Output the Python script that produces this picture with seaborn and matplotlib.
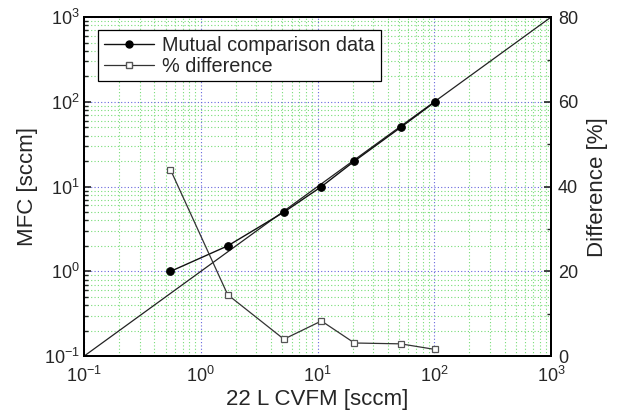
import numpy as np
import matplotlib
matplotlib.use('Agg')
import matplotlib.pyplot as plt
from matplotlib.lines import Line2D
from matplotlib.ticker import LogLocator, MultipleLocator, NullFormatter
import seaborn as sns
import pandas as pd

##################################################################
# data
cvfm = [0.55, 1.7, 5.15, 10.8, 20.7, 51.5, 100.5]
mfc = [1.0, 2.0, 5.0, 10.0, 20.0, 50.0, 99.0]
diff_pct = [44.0, 14.5, 4.0, 8.3, 3.1, 2.9, 1.6]
diag = [0.1, 1000.0]
##################################################################
sns.set_style('white')
plt.rcParams['font.family'] = ['Liberation Sans', 'DejaVu Sans']
plt.rcParams['mathtext.fontset'] = 'custom'
plt.rcParams['mathtext.rm'] = 'Liberation Sans'

df = pd.DataFrame({'cvfm': cvfm, 'mfc': mfc, 'diff': diff_pct})
df_diag = pd.DataFrame({'x': diag, 'y': diag})

fig = plt.figure(figsize=(6.18, 4.18), dpi=100)
ax = fig.add_axes([0.136, 0.148, 0.7556, 0.811])
ax2 = ax.twinx()

ax.set_xscale('log')
ax.set_yscale('log')

sns.lineplot(data=df_diag, x='x', y='y', ax=ax, color='#222222', lw=0.9)
sns.lineplot(data=df, x='cvfm', y='mfc', ax=ax, color='#111111', lw=1.0,
             marker='o', markersize=5.5, markerfacecolor='black',
             markeredgecolor='black')
sns.lineplot(data=df, x='cvfm', y='diff', ax=ax2, color='#333333', lw=0.9,
             marker='s', markersize=5, markerfacecolor='white',
             markeredgecolor='#555555', markeredgewidth=0.9)

ax.set_xlim(0.1, 1000)
ax.set_ylim(0.1, 1000)
ax2.set_ylim(0, 80)

for a in (ax.xaxis, ax.yaxis):
    a.set_major_locator(LogLocator(base=10, numticks=10))
    a.set_minor_locator(LogLocator(base=10, subs=np.arange(2, 10), numticks=10))
    a.set_minor_formatter(NullFormatter())

ax.grid(True, which='major', color='#6666dd', ls=(0, (1, 2)), lw=0.8)
ax.grid(True, which='minor', color='#77dd77', ls=(0, (1, 2)), lw=0.8)
ax.set_axisbelow(True)

ax2.yaxis.set_major_locator(MultipleLocator(20))
ax2.yaxis.set_minor_locator(MultipleLocator(10))

fz = 16
ax.set_xlabel('22 L CVFM [sccm]', fontsize=fz, labelpad=2)
ax.set_ylabel('MFC [sccm]', fontsize=fz, labelpad=4)
ax2.set_ylabel('Difference [%]', fontsize=fz, labelpad=6)

ax.tick_params(which='both', direction='in', labelsize=13, top=False, right=False)
ax.tick_params(axis='x', which='major', pad=7)
ax.tick_params(axis='y', which='major', pad=3)
ax.tick_params(which='major', length=5, width=1.2)
ax.tick_params(which='minor', length=3, width=1.0)
ax2.tick_params(which='both', direction='in', labelsize=13, pad=5)
ax2.tick_params(which='major', length=5, width=1.2)
ax2.tick_params(which='minor', length=3, width=1.0)

for a in (ax, ax2):
    for s in a.spines.values():
        s.set_linewidth(1.4)
        s.set_color('black')

handles = [
    Line2D([], [], color='#111111', lw=1.0, marker='o', markersize=5,
           markerfacecolor='black', markeredgecolor='black'),
    Line2D([], [], color='#333333', lw=0.9, marker='s', markersize=4.5,
           markerfacecolor='white', markeredgecolor='#555555'),
]
if ax2.get_legend() is not None:
    ax2.get_legend().remove()
leg = ax2.legend(handles, ['Mutual comparison data', '% difference'],
                 loc='upper left', bbox_to_anchor=(0.022, 0.975), fontsize=14.3,
                 frameon=True, fancybox=False, framealpha=1, edgecolor='black',
                 handlelength=2.5, borderpad=0.3, labelspacing=0.1,
                 handletextpad=0.4, borderaxespad=0.2)
leg.get_frame().set_linewidth(0.9)

plt.savefig('out.png', dpi=100)
